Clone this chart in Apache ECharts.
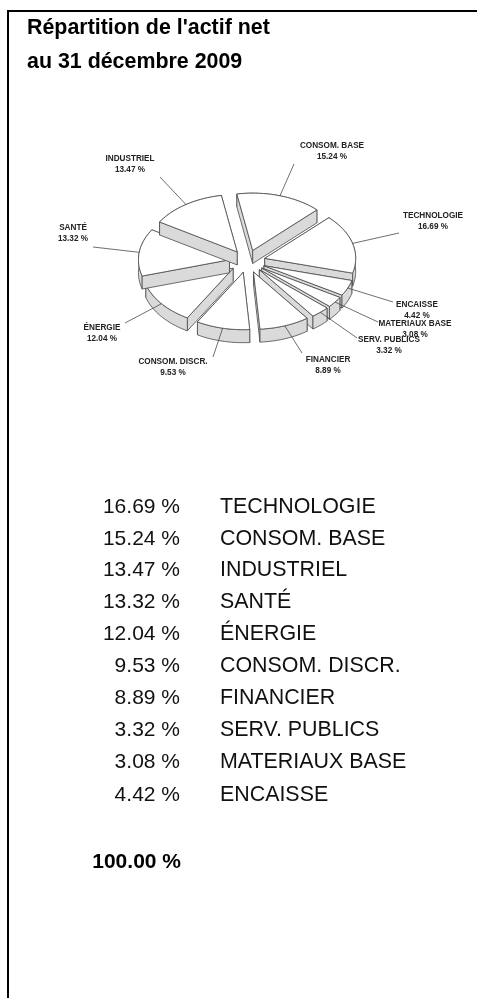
<!DOCTYPE html>
<html><head><meta charset="utf-8">
<style>html,body{margin:0;padding:0;background:#fff}#c{width:477px;height:998px}</style>
<script src="https://cdn.jsdelivr.net/npm/echarts@6/dist/echarts.min.js"></script>
</head><body><div id="c"></div>
<script>
const titleLines = ["Répartition de l'actif net", "au 31 décembre 2009"];
const categories = ["TECHNOLOGIE","CONSOM. BASE","INDUSTRIEL","SANTÉ","ÉNERGIE","CONSOM. DISCR.","FINANCIER","SERV. PUBLICS","MATERIAUX BASE","ENCAISSE"];
const values = [16.69,15.24,13.47,13.32,12.04,9.53,8.89,3.32,3.08,4.42];
const totalLabel = "100.00 %";
const pieOrder = ["CONSOM. BASE","TECHNOLOGIE","ENCAISSE","MATERIAUX BASE","SERV. PUBLICS","FINANCIER","CONSOM. DISCR.","ÉNERGIE","SANTÉ","INDUSTRIEL"];

// presentation only: where each label sits and where its leader ends (px)
const labelAnchors = {
  "CONSOM. BASE":[332,146,294,164],
  "TECHNOLOGIE":[433,216,399,233],
  "ENCAISSE":[417,305,393,302],
  "MATERIAUX BASE":[415,324,378,322],
  "SERV. PUBLICS":[389,340,357,338],
  "FINANCIER":[328,360,302,353],
  "CONSOM. DISCR.":[173,362,213,357],
  "ÉNERGIE":[102,328,125,323],
  "SANTÉ":[73,228,93,247],
  "INDUSTRIEL":[130,159,160,177]
};
const CX=247.3, CY=261.3, R=91, TILT=0.63, DEPTH=13, EXPLODE=18/91, START=100;
const WALL='#dadada', EDGE='#4a4a4a', FONT='"Liberation Sans",Arial,sans-serif';

const pieValues = pieOrder.map(n=>values[categories.indexOf(n)]);
let acc=0;
const pieData = pieOrder.map((n,i)=>{const s=acc; acc+=pieValues[i]; return [s,acc,n,pieValues[i]];});

function renderSlice(params, api){
  const a0=api.value(0), a1=api.value(1);
  const raw=(r,a)=>{const p=api.coord([r,a]); return [p[0],CY+(p[1]-CY)*TILT];};
  const mid=(a0+a1)/2, c=raw(0,0), m=raw(EXPLODE,mid);
  const dx=m[0]-c[0], dy=m[1]-c[1];
  const P=(r,a,d)=>{const p=raw(r,a); return [p[0]+dx,p[1]+dy+(d||0)];};
  const apex=P(0,a0), apexD=P(0,a0,DEPTH);
  const arc=[], arcD=[];
  const steps=Math.max(4,Math.ceil((a1-a0)*1.5));
  for(let i=0;i<=steps;i++){const a=a0+(a1-a0)*i/steps; arc.push(P(1,a)); arcD.push(P(1,a,DEPTH));}
  const poly=(pts,fill)=>({type:'polygon',shape:{points:pts},style:{fill:fill,stroke:EDGE,lineWidth:0.8}});
  const walls=[
    {pts:[apex,arc[0],arcD[0],apexD]},
    {pts:[apex,arc[steps],arcD[steps],apexD]},
    {pts:arc.concat(arcD.slice().reverse())}
  ].map(w=>{w.y=w.pts.reduce((s,p)=>s+p[1],0)/w.pts.length; return w;}).sort((u,v)=>u.y-v.y);
  const kids=walls.map(w=>poly(w.pts,WALL));
  kids.push(poly([apex].concat(arc),'#fff'));
  return {type:'group',children:kids};
}
function renderLabel(params, api){
  const a0=api.value(0), a1=api.value(1), name=pieOrder[params.dataIndex];
  const raw=(r,a)=>{const p=api.coord([r,a]); return [p[0],CY+(p[1]-CY)*TILT];};
  const mid=(a0+a1)/2, c=raw(0,0), m=raw(EXPLODE,mid);
  const e=raw(1,mid); const start=[e[0]+m[0]-c[0], e[1]+m[1]-c[1]];
  const la=labelAnchors[name];
  const txt=(t,y)=>({type:'text',style:{x:la[0],y:y,text:t,align:'center',verticalAlign:'middle',fill:'#222',font:'bold 8.2px '+FONT}});
  return {type:'group',children:[
    {type:'line',shape:{x1:start[0],y1:start[1],x2:la[2],y2:la[3]},style:{stroke:EDGE,lineWidth:0.8}},
    txt(name,la[1]), txt(api.value(3).toFixed(2)+' %',la[1]+11)
  ]};
}

const ROW_Y=[507,539,570,602,634,666,698,730,762,795];
const graphics=[
  {type:'line',shape:{x1:8,y1:11,x2:477,y2:11},style:{stroke:'#000',lineWidth:2}},
  {type:'line',shape:{x1:8,y1:10,x2:8,y2:998},style:{stroke:'#000',lineWidth:2}}
];
titleLines.forEach((t,i)=>graphics.push({type:'text',style:{x:27,y:i?62:28,text:t,verticalAlign:'middle',fill:'#000',font:'bold 21.4px '+FONT}}));
categories.forEach((n,i)=>{
  graphics.push({type:'text',style:{x:180,y:ROW_Y[i],text:values[i].toFixed(2)+' %',align:'right',verticalAlign:'middle',fill:'#111',font:'21px '+FONT}});
  graphics.push({type:'text',style:{x:220,y:ROW_Y[i],text:n,verticalAlign:'middle',fill:'#111',font:'21.4px '+FONT}});
});
graphics.push({type:'text',style:{x:181,y:862,text:totalLabel,align:'right',verticalAlign:'middle',fill:'#000',font:'bold 21px '+FONT}});

const chart=echarts.init(document.getElementById('c'),null,{renderer:'canvas'});
chart.setOption({
  animation:false,
  backgroundColor:'#fff',
  polar:{center:[CX,CY],radius:R},
  angleAxis:{type:'value',min:0,max:100,startAngle:START,clockwise:true,show:false},
  radiusAxis:{type:'value',min:0,max:1,show:false},
  graphic:graphics,
  series:[
    {type:'custom',coordinateSystem:'polar',renderItem:renderSlice,data:pieData,clip:false,z:2,silent:true,
     encode:{radius:3,angle:0}},
    {type:'custom',coordinateSystem:'polar',renderItem:renderLabel,data:pieData,clip:false,z:3,silent:true,
     encode:{radius:3,angle:0}}
  ]
});
</script></body></html>
